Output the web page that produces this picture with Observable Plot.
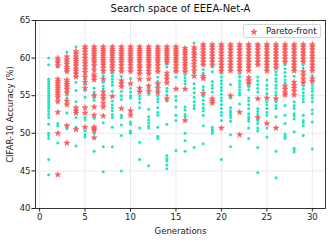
<!DOCTYPE html>
<html>
<head>
<meta charset="utf-8">
<script src="https://cdn.jsdelivr.net/npm/d3@7"></script>
<script src="https://cdn.jsdelivr.net/npm/@observablehq/plot@0.6"></script>
<style>
  html, body { margin: 0; padding: 0; background: #fff; }
  #wrap { position: relative; width: 332px; height: 241px; font-family: "DejaVu Sans", sans-serif; }
  #legend { position: absolute; left: 243px; top: 24px; width: 78px; height: 14px; border: 1px solid #d6d6d6; border-radius: 2px; background: rgba(255,255,255,0.85); box-sizing: border-box; font-size: 8.5px; color: #222; }
  #legend svg { position: absolute; left: 3px; top: 2px; }
  #legend span { position: absolute; left: 22px; top: 1px; line-height: 11px; }
</style>
</head>
<body>
<div id="wrap"></div>
<script>
const chartTitle = "Search space of EEEA-Net-A";
const xLabel = "Generations";
const yLabel = "CIFAR-10 Accuracy (%)";
const legendLabel = "Pareto-front";
const xTicks = [0, 5, 10, 15, 20, 25, 30];
const yTicks = [40, 45, 50, 55, 60, 65];
const generations = [1,2,3,4,5,6,7,8,9,10,11,12,13,14,15,16,17,18,19,20,21,22,23,24,25,26,27,28,29,30];

// non-Pareto architectures (cyan), per generation
const otherByGen = [
  [60.0,59.1,57.2,56.9,56.6,56.3,56.0,55.7,55.4,55.1,54.8,54.5,54.2,53.9,53.6,53.3,52.9,52.5,52.1,51.2,50.0,49.7,49.3,46.5,44.5],
  [58.8,54.5,51.3,51.0,48.7],
  [60.8,56.0,55.6,55.1,54.7,52.7,50.6],
  [61.5,58.1,56.8,55.7,54.2,52.1,50.8,48.3],
  [57.8,57.2,56.5,55.7,54.8,52.1,51.8,50.3,49.8,49.5],
  [58.7,56.0,55.5,55.2,54.8,54.4,52.0,50.0,47.6],
  [58.0,57.6,56.8,56.3,55.9,51.4,48.2,44.9],
  [58.0,57.6,57.2,56.8,56.4,55.6,55.0,54.3,53.8,53.4,53.0,52.5,52.1,50.8,48.2],
  [59.2,57.6,55.6,55.0,54.5,52.4,52.1,51.1,49.7,45.0],
  [57.3,56.0,55.5,55.0,54.7,52.8,51.5,51.2,50.3,50.0],
  [55.0,54.6,54.1,53.4,50.7,48.8,46.5],
  [56.0,55.2,53.2,52.2,51.8,51.4,51.0,50.7,45.7],
  [57.5,56.9,56.3,55.7,55.0,54.6,54.2,53.4,52.8,52.4,50.8,49.6,49.3],
  [59.2,58.8,56.0,55.6,55.1,54.3,51.2,47.0,46.6,46.3,45.8,45.3],
  [57.5,54.9,54.4,53.5,52.4,51.7,47.7],
  [57.8,57.4,57.0,56.6,53.5,53.1,52.5,52.2,50.0,49.0,47.6],
  [62.0,60.2,58.0,56.6,56.0,55.4,54.8,54.2,53.7,53.3,48.1],
  [58.5,58.0,56.2,55.8,54.9,54.4,53.9,53.4,53.0,52.4,51.0,48.6],
  [59.5,58.8,58.2,56.9,56.4,56.0,55.5,50.8,50.5,50.3,50.0],
  [58.9,58.0,57.5,57.0,56.6,56.1,55.7,55.2,54.7,54.3,53.8,53.3,52.8,52.4,51.7,46.5],
  [56.5,54.7,53.4,53.0,52.7,52.4,52.1,51.6,49.8,48.2],
  [57.9,57.5,57.0,56.6,56.2,55.8,55.4,55.1,53.9],
  [59.7,59.0,56.2,55.8,54.7,54.3,53.8,53.3,52.6,52.2,51.9,51.6,50.7,49.3],
  [57.5,57.0,56.5,56.0,55.5,53.3,52.9,52.5,51.7,51.3,50.7,50.3,48.1,44.8],
  [60.5,59.6,57.1,56.4,55.9,55.3,54.2,53.8,53.3,52.8,52.4,50.7,49.5],
  [58.2,57.8,57.3,56.9,56.4,56.0,55.5,55.1,54.2,53.7,53.3,52.2,47.6,44.1],
  [59.1,58.6,58.1,57.6,57.1,56.7,53.7,52.4,51.3,49.9,49.6,49.3],
  [58.6,57.6,54.2,53.7,53.3,52.6,52.3,51.9,50.2,48.0,47.8,47.5],
  [61.0,60.5,59.1,58.7,56.3,55.9,55.4,55.0,54.6,54.2,52.4,51.7,51.4,51.0,49.7],
  [60.6,60.2,57.7,56.4,56.0,55.6,55.1,54.7,54.2,53.1,52.6,51.5,47.9]
];

// Pareto-front architectures (red stars), per generation
const paretoByGen = [
  [],
  [60.0,59.7,59.4,59.0,57.2,56.9,56.6,56.3,56.0,55.7,55.4,55.1,54.8,54.2,52.8,50.0,44.5],
  [60.2,59.8,59.5,59.2,58.8,58.5,58.2,57.1,56.8,56.5,56.2,55.9,55.4,54.3,53.8,51.0,48.7],
  [60.9,60.6,60.2,59.9,59.6,59.3,59.0,58.6,58.3,57.9,57.5,53.4,53.0,52.7,50.5],
  [61.5,61.2,60.8,60.4,60.0,59.6,59.3,58.9,58.5,58.1,57.5,56.8,56.0,53.4,52.7,50.8],
  [61.5,61.2,60.9,60.6,60.3,60.0,59.7,59.4,59.0,58.4,57.8,57.5,57.1,55.0,53.5,52.4,50.8,50.6,50.4,49.4],
  [61.5,61.2,60.9,60.6,60.3,60.0,59.7,59.4,59.1,58.7,58.3,57.2,55.5,55.0,54.6,54.0,53.5,52.3],
  [61.5,61.2,60.9,60.6,60.3,60.0,59.7,59.4,59.0,58.7,58.3,54.9],
  [61.5,61.2,60.9,60.6,60.3,60.0,59.7,59.4,59.0,58.6,58.2,57.0,56.6,56.2,53.3],
  [61.5,61.2,60.9,60.6,60.3,60.0,59.7,59.4,59.0,58.6,58.2,56.6,53.0,52.4],
  [61.5,61.2,60.9,60.6,60.3,60.0,59.7,59.4,59.0,58.7,58.3,57.9,57.2,56.0,55.5],
  [61.5,61.2,60.9,60.6,60.3,60.0,59.7,59.4,59.0,58.7,58.3,57.9,57.2,56.3,55.6],
  [61.5,61.2,60.9,60.6,60.3,60.0,59.7,59.4,59.0,58.6,58.2,56.6,56.0,55.4],
  [61.5,61.2,60.9,60.6,60.3,60.0,59.7,59.4,58.0,57.6,57.2,56.7,54.6],
  [61.5,61.2,60.9,60.6,60.3,60.0,59.7,59.4,59.0,58.6,58.2,55.9],
  [61.3,61.0,60.7,60.4,60.0,59.7,59.3,59.0,58.6,58.2,55.9,51.7],
  [61.4,61.1,60.7,60.4,60.0,59.6,59.2,58.8,58.3,57.6],
  [61.8,61.5,61.1,60.7,60.3,59.9,59.5,59.1,57.6,57.3,55.3],
  [61.8,61.5,61.1,60.7,60.3,59.9,59.5,59.1,54.6,54.3,54.0],
  [61.8,61.5,61.1,60.7,60.3,59.9,59.5,59.1,58.7,58.3,50.7],
  [61.8,61.5,61.1,60.7,60.3,59.9,59.5,59.1,58.7,58.3,55.0],
  [61.8,61.5,61.1,60.7,60.3,59.9,59.5,59.1,58.7,58.3,52.8,49.8],
  [61.8,61.5,61.1,60.7,60.3,59.9,59.5,59.1,58.7,58.3,57.4,57.0,56.6],
  [61.8,61.5,61.1,60.7,60.3,59.9,59.5,59.1,54.6,52.1],
  [61.8,61.5,61.1,60.7,60.3,59.9,59.5,59.1,58.7,58.3,54.7,51.3],
  [61.8,61.5,61.1,60.7,60.3,59.9,59.5,59.1,58.7,54.6,50.7],
  [61.8,61.5,61.1,60.7,60.3,59.9,59.5,56.3,55.9,55.4,55.1],
  [61.8,61.5,61.1,60.7,60.3,59.9,59.5,59.1,58.7,58.3,56.8,56.4,56.0,55.6,55.1],
  [61.8,61.5,61.1,60.7,60.3,59.9,59.5,58.2,57.7,57.2,56.7],
  [61.8,61.5,61.1,60.7,60.3,59.9,59.5,59.1,58.7,58.3,57.3,56.9]
];

const cyan = "#1de6c4";
const red = "#fa5a5a";

const others = generations.flatMap((g, i) => otherByGen[i].map(v => ({gen: g, acc: v})));
const pareto = generations.flatMap((g, i) => paretoByGen[i].map(v => ({gen: g, acc: v})));

const chart = Plot.plot({
  width: 332,
  height: 241,
  marginTop: 20,
  marginRight: 7,
  marginBottom: 33,
  marginLeft: 35,
  style: {fontFamily: "DejaVu Sans, sans-serif", fontSize: "8.5px", color: "#222", background: "#fff"},
  x: {domain: [-0.45, 31.45]},
  y: {domain: [40, 65]},
  marks: [
    Plot.gridX(xTicks, {stroke: "#e6e6e6", strokeOpacity: 1, strokeWidth: 0.8}),
    Plot.gridY(yTicks, {stroke: "#e6e6e6", strokeOpacity: 1, strokeWidth: 0.8}),
    Plot.axisX(xTicks, {tickSize: 3.5, tickPadding: 1.5, label: xLabel, labelAnchor: "center", labelArrow: "none", labelOffset: 25, fontSize: 8.5}),
    Plot.axisY(yTicks, {tickSize: 3.5, tickPadding: 1.5, label: yLabel, labelAnchor: "center", labelArrow: "none", labelOffset: 29, fontSize: 8.5}),
    Plot.dot(others, {x: "gen", y: "acc", r: 1.5, fill: cyan, stroke: "none"}),
    Plot.dot(pareto, {x: "gen", y: "acc", r: 1.85, symbol: "star", fill: red, stroke: red, strokeWidth: 0.5}),
    Plot.frame({stroke: "#222", strokeWidth: 0.9}),
    Plot.text([chartTitle], {frameAnchor: "top", dy: -12, fontSize: 10, fill: "#111", lineAnchor: "middle"})
  ]
});

const wrap = document.getElementById("wrap");
wrap.appendChild(chart);

const legend = document.createElement("div");
legend.id = "legend";
const starPath = d3.symbol(d3.symbolStar, 12)();
legend.innerHTML = `<svg width="14" height="10"><path d="${starPath}" transform="translate(7,5)" fill="${red}" stroke="${red}" stroke-width="0.5"/></svg><span>${legendLabel}</span>`;
wrap.appendChild(legend);
</script>
</body>
</html>
